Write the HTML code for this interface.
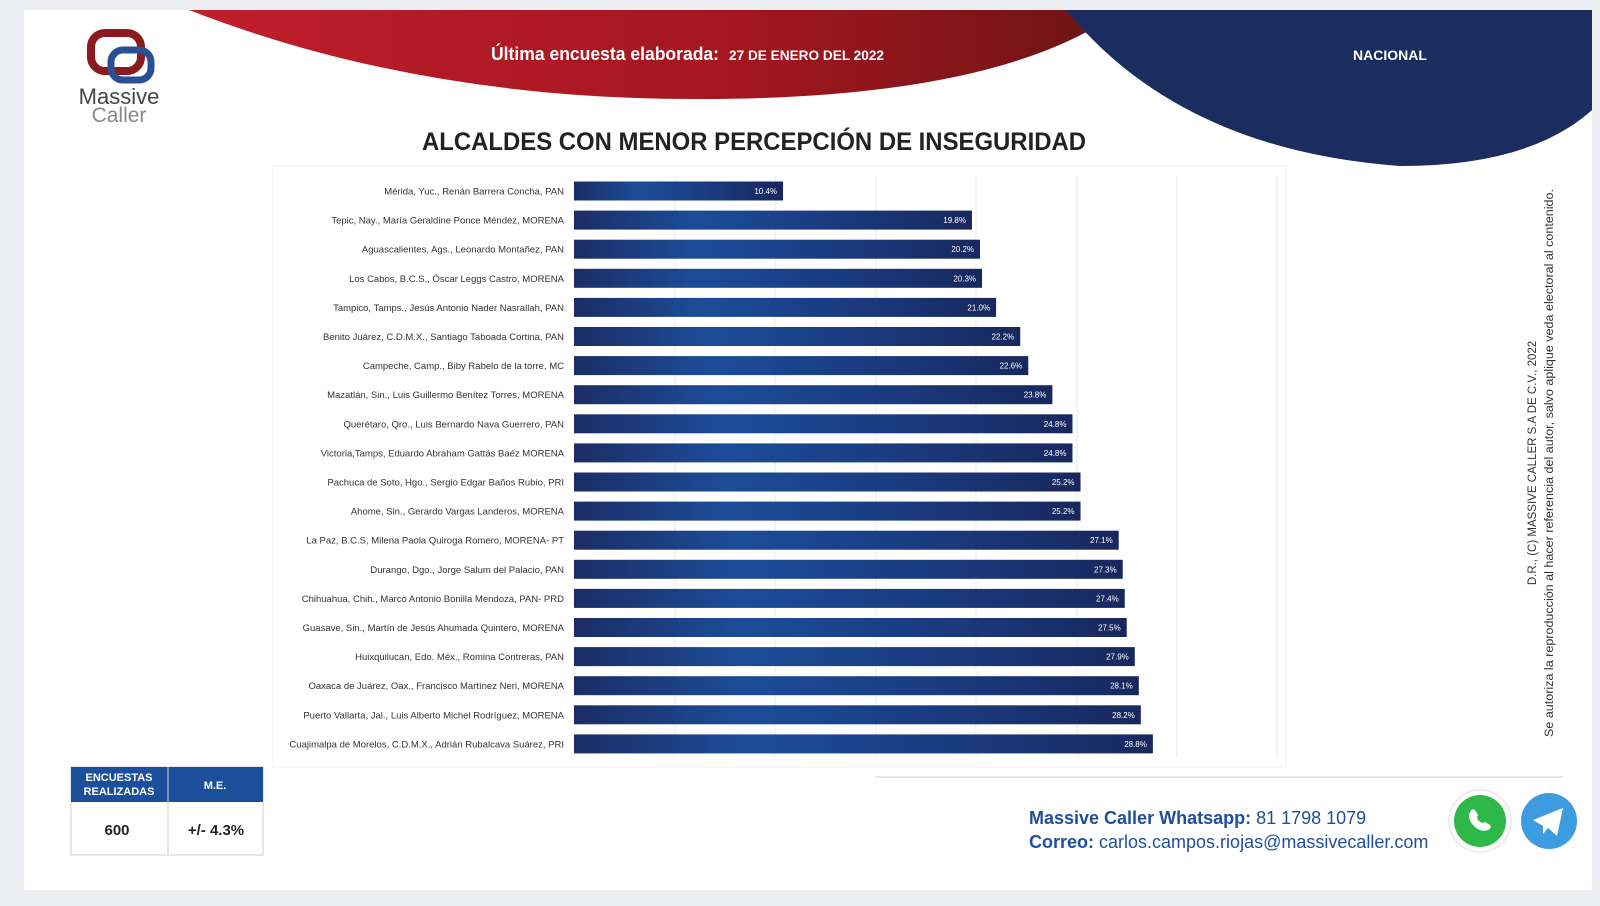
<!DOCTYPE html>
<html><head><meta charset="utf-8"><style>
html,body{margin:0;padding:0;background:#eceef2;}
body{width:1600px;height:906px;overflow:hidden;position:relative;font-family:"Liberation Sans",sans-serif;}
</style></head><body>
<svg width="1600" height="906" viewBox="0 0 1600 906" xmlns="http://www.w3.org/2000/svg" style="position:absolute;left:0;top:0">
<defs>
<linearGradient id="red" x1="0" x2="1" y1="0" y2="0"><stop offset="0" stop-color="#c01e2c"/><stop offset="0.6" stop-color="#a3161f"/><stop offset="1" stop-color="#6b1414"/></linearGradient>
<linearGradient id="bar" x1="0" x2="1" y1="0" y2="0"><stop offset="0" stop-color="#1b2d66"/><stop offset="0.3" stop-color="#1c4c98"/><stop offset="0.6" stop-color="#1a3d84"/><stop offset="1" stop-color="#18285e"/></linearGradient>
</defs>
<rect x="24" y="10" width="1568" height="880" fill="#fff"/>
<path d="M189 10 Q 420 100 700 99 Q 1000 99 1122 10 Z" fill="url(#red)"/>
<path d="M1066 10 Q 1180 150 1400 166 Q 1530 166 1592 110 L1592 10 Z" fill="#1a2d5e"/>
<text x="491" y="60" font-size="18" fill="#fff" font-weight="bold" textLength="228" lengthAdjust="spacingAndGlyphs">Última encuesta elaborada:</text>
<text x="729" y="60" font-size="14" fill="#fff" font-weight="bold" textLength="155" lengthAdjust="spacingAndGlyphs">27 DE ENERO DEL 2022</text>
<text x="1390" y="60" font-size="14" fill="#fff" font-weight="bold" text-anchor="middle">NACIONAL</text>
<!-- logo -->
<rect x="91" y="33" width="50" height="38" rx="14" fill="none" stroke="#8a1a1e" stroke-width="8"/>
<rect x="111" y="50" width="40" height="30" rx="12" fill="none" stroke="#2a4f94" stroke-width="7"/>
<text x="119" y="104" font-size="22" fill="#444" text-anchor="middle">Massive</text>
<text x="119" y="122" font-size="21" fill="#888" text-anchor="middle">Caller</text>
<text x="754" y="150" font-size="25" fill="#222" font-weight="bold" text-anchor="middle" textLength="664" lengthAdjust="spacingAndGlyphs">ALCALDES CON MENOR PERCEPCIÓN DE INSEGURIDAD</text>
<rect x="273" y="166" width="1013" height="601" fill="#fff" stroke="#eef0f3"/>
<g stroke="#e6e8ec" stroke-width="1">
<line x1="675" y1="176" x2="675" y2="758"/><line x1="775" y1="176" x2="775" y2="758"/><line x1="876" y1="176" x2="876" y2="758"/><line x1="976" y1="176" x2="976" y2="758"/><line x1="1077" y1="176" x2="1077" y2="758"/><line x1="1177" y1="176" x2="1177" y2="758"/><line x1="1277" y1="176" x2="1277" y2="758"/>
</g>
<g id="bars" font-size="9.5" fill="#333"></g>
<!-- table -->
<rect x="71" y="767" width="192" height="88" fill="#fff" stroke="#ccc"/>
<rect x="71" y="767" width="192" height="35" fill="#1b4f9c"/>
<line x1="168" y1="767" x2="168" y2="855" stroke="#ccc"/>
<text x="119" y="781" font-size="11" fill="#fff" font-weight="bold" text-anchor="middle">ENCUESTAS</text>
<text x="119" y="795" font-size="11" fill="#fff" font-weight="bold" text-anchor="middle">REALIZADAS</text>
<text x="215" y="789" font-size="11" fill="#fff" font-weight="bold" text-anchor="middle">M.E.</text>
<text x="117" y="835" font-size="15" fill="#222" font-weight="bold" text-anchor="middle">600</text>
<text x="216" y="835" font-size="15" fill="#222" font-weight="bold" text-anchor="middle">+/- 4.3%</text>
<line x1="875" y1="777" x2="1563" y2="777" stroke="#ccc"/>
<text x="1029" y="824" font-size="18" fill="#1f4e9c"><tspan font-weight="bold">Massive Caller Whatsapp:</tspan> 81 1798 1079</text>
<text x="1029" y="848" font-size="18" fill="#1f4e9c"><tspan font-weight="bold">Correo:</tspan> carlos.campos.riojas@massivecaller.com</text>
<circle cx="1480" cy="821" r="31" fill="#fff" stroke="#ddd"/>
<circle cx="1480" cy="821" r="26" fill="#2fb84a"/>
<path d="M1470 812 q2 -4 5 -2 l3 5 q-2 3 1 6 q3 3 6 1 l5 3 q2 3 -2 5 q-8 3 -15 -5 q-6 -7 -3 -13z" fill="#fff"/>
<circle cx="1549" cy="821" r="28" fill="#3d9be0"/>
<path d="M1533 820 L1563 808 L1557 836 L1548 828 L1543 834 L1543 826 Z" fill="#fff"/>
<text transform="translate(1536,463) rotate(-90)" font-size="11.5" fill="#333" text-anchor="middle">D.R., (C) MASSIVE CALLER S.A DE C.V., 2022</text>
<text transform="translate(1553,463) rotate(-90)" font-size="11.5" fill="#333" text-anchor="middle" textLength="548" lengthAdjust="spacingAndGlyphs">Se autoriza la reproducción al hacer referencia del autor, salvo aplique veda electoral al contenido.</text>
</svg>
<script>
var d=[["Mérida, Yuc., Renán Barrera Concha, PAN",10.4,"10.4%"],["Tepic, Nay., María Geraldine Ponce Méndez, MORENA",19.8,"19.8%"],["Aguascalientes, Ags., Leonardo Montañez, PAN",20.2,"20.2%"],["Los Cabos, B.C.S., Óscar Leggs Castro, MORENA",20.3,"20.3%"],["Tampico, Tamps., Jesús Antonio Nader Nasrallah, PAN",21.0,"21.0%"],["Benito Juárez, C.D.M.X., Santiago Taboada Cortina, PAN",22.2,"22.2%"],["Campeche, Camp., Biby Rabelo de la torre, MC",22.6,"22.6%"],["Mazatlán, Sin., Luis Guillermo Benítez Torres, MORENA",23.8,"23.8%"],["Querétaro, Qro., Luis Bernardo Nava Guerrero, PAN",24.8,"24.8%"],["Victoria,Tamps, Eduardo Abraham Gattás Baéz MORENA",24.8,"24.8%"],["Pachuca de Soto, Hgo., Sergio Edgar Baños Rubio, PRI",25.2,"25.2%"],["Ahome, Sin., Gerardo Vargas Landeros, MORENA",25.2,"25.2%"],["La Paz, B.C.S, Milena Paola Quiroga Romero, MORENA- PT",27.1,"27.1%"],["Durango, Dgo., Jorge Salum del Palacio, PAN",27.3,"27.3%"],["Chihuahua, Chih., Marco Antonio Bonilla Mendoza, PAN- PRD",27.4,"27.4%"],["Guasave, Sin., Martín de Jesús Ahumada Quintero, MORENA",27.5,"27.5%"],["Huixquilucan, Edo. Méx., Romina Contreras, PAN",27.9,"27.9%"],["Oaxaca de Juárez, Oax., Francisco Martínez Neri, MORENA",28.1,"28.1%"],["Puerto Vallarta, Jal., Luis Alberto Michel Rodríguez, MORENA",28.2,"28.2%"],["Cuajimalpa de Morelos, C.D.M.X., Adrián Rubalcava Suárez, PRI",28.8,"28.8%"]];
var g=document.getElementById("bars"),h="";
d.forEach(function(r,i){var y=191+i*29.1,w=r[1]*20.1;
h+='<rect x="574" y="'+(y-9.5)+'" width="'+w+'" height="19" fill="url(#bar)"/>';
h+='<text x="564" y="'+(y+3.5)+'" text-anchor="end">'+r[0]+'</text>';
h+='<text x="'+(574+w-6)+'" y="'+(y+3)+'" text-anchor="end" font-size="8" fill="#fff">'+r[2]+'</text>';});
g.innerHTML=h;
</script>
</body></html>
